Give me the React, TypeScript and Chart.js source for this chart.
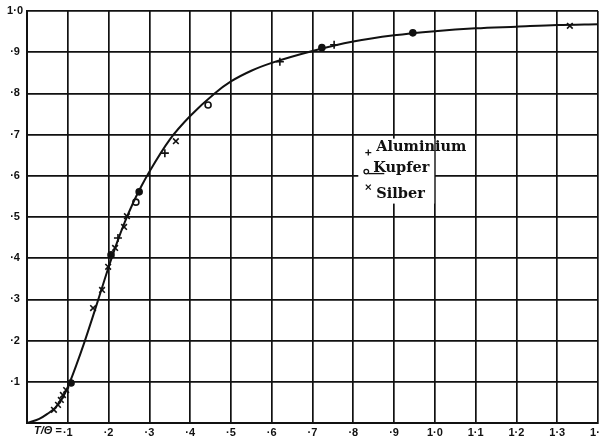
import React, { useEffect, useRef } from "react";
import { Chart, registerables } from "chart.js";

Chart.register(...registerables);

// Tick labels
const xTickLabels = ["", "·1", "·2", "·3", "·4", "·5", "·6", "·7", "·8", "·9", "1·0", "1·1", "1·2", "1·3", "1·4"];
const yTickLabels = ["", "·1", "·2", "·3", "·4", "·5", "·6", "·7", "·8", "·9", "1·0"];

// Theoretical curve
const curveX = [0, 0.03, 0.05, 0.07, 0.09, 0.105, 0.12, 0.14, 0.16, 0.18, 0.2, 0.22, 0.24, 0.26, 0.28, 0.3, 0.35, 0.4, 0.46, 0.5, 0.55, 0.6, 0.7, 0.8, 0.9, 1.0, 1.1, 1.2, 1.3, 1.4];
const curveY = [0, 0.01, 0.022, 0.038, 0.066, 0.099, 0.138, 0.194, 0.254, 0.316, 0.378, 0.436, 0.488, 0.534, 0.574, 0.61, 0.688, 0.745, 0.8, 0.829, 0.855, 0.874, 0.903, 0.926, 0.941, 0.951, 0.958, 0.962, 0.966, 0.968];

// Measurements
const aluX = [0.223, 0.338, 0.62, 0.753];
const aluY = [0.449, 0.655, 0.877, 0.918];

const kupX = [0.108, 0.206, 0.267, 0.275, 0.444, 0.723, 0.946];
const kupY = [0.097, 0.408, 0.536, 0.561, 0.772, 0.911, 0.947];
const kupFilled = [true, true, false, true, false, true, true];

const silX = [0.066, 0.076, 0.083, 0.088, 0.096, 0.162, 0.184, 0.199, 0.216, 0.238, 0.245, 0.365, 1.331];
const silY = [0.032, 0.044, 0.056, 0.068, 0.08, 0.279, 0.323, 0.379, 0.425, 0.476, 0.502, 0.684, 0.964];

const legendNames = ["Aluminium", "Kupfer", "Silber"];
const axisPrefix = "T/Θ =";

const INK = "#111";

const pts = (xs: number[], ys: number[]) => xs.map((x, i) => ({ x, y: ys[i] }));

const zeroPad = (s: any) => {
  s.paddingLeft = 0;
  s.paddingRight = 0;
  s.paddingTop = 0;
  s.paddingBottom = 0;
};

export default function App() {
  const ref = useRef<HTMLCanvasElement | null>(null);

  useEffect(() => {
    if (!ref.current) return;

    const whiteBg = {
      id: "whiteBg",
      beforeDraw(chart: any) {
        const ctx = chart.ctx;
        ctx.save();
        ctx.fillStyle = "#fff";
        ctx.fillRect(0, 0, chart.width, chart.height);
        ctx.restore();
      },
    };

    const extras = {
      id: "extras",
      afterDraw(chart: any) {
        const ctx = chart.ctx;
        const xs = chart.scales.x;
        const ys = chart.scales.y;
        ctx.save();
        // axis prefix
        ctx.fillStyle = INK;
        ctx.font = "italic bold 11px 'Liberation Sans'";
        ctx.textAlign = "right";
        ctx.textBaseline = "middle";
        ctx.fillText(axisPrefix, xs.getPixelForValue(0.1) - 6, ys.getPixelForValue(0) + 8);

        // legend
        const lx = xs.getPixelForValue(0.8) + 5;
        const ly = ys.getPixelForValue(0.7) + 4;
        ctx.fillStyle = "#fff";
        ctx.fillRect(lx, ly, 76, 65);
        ctx.fillStyle = INK;
        ctx.strokeStyle = INK;
        ctx.lineWidth = 1.3;
        ctx.font = "bold 14.5px 'DejaVu Serif'";
        ctx.textAlign = "left";
        ctx.textBaseline = "alphabetic";
        // + marker
        const mx = lx + 10;
        ctx.beginPath();
        ctx.moveTo(mx - 3, ly + 14); ctx.lineTo(mx + 3, ly + 14);
        ctx.moveTo(mx, ly + 11); ctx.lineTo(mx, ly + 17);
        ctx.stroke();
        ctx.fillText(legendNames[0], lx + 18, ly + 12);
        // o marker
        ctx.beginPath();
        ctx.arc(mx - 2, ly + 33, 2.3, 0, Math.PI * 2);
        ctx.stroke();
        ctx.beginPath();
        ctx.moveTo(mx, ly + 35); ctx.lineTo(mx + 16, ly + 35);
        ctx.stroke();
        ctx.fillText(legendNames[1], lx + 15, ly + 33);
        // x marker
        ctx.beginPath();
        ctx.moveTo(mx - 2.5, ly + 46); ctx.lineTo(mx + 2.5, ly + 51);
        ctx.moveTo(mx + 2.5, ly + 46); ctx.lineTo(mx - 2.5, ly + 51);
        ctx.stroke();
        ctx.fillText(legendNames[2], lx + 18, ly + 59);
        ctx.restore();
      },
    };

    const marker = { borderColor: INK, borderWidth: 1.6, pointRadius: 3.5, showLine: false };

    const chart = new Chart(ref.current, {
      type: "scatter",
      data: {
        datasets: [
          {
            type: "line",
            data: pts(curveX, curveY),
            borderColor: INK,
            borderWidth: 2,
            pointRadius: 0,
            cubicInterpolationMode: "monotone",
            fill: false,
          } as any,
          { ...marker, data: pts(aluX, aluY), pointStyle: "cross", pointRadius: 4 },
          {
            ...marker,
            data: pts(kupX, kupY),
            pointStyle: "circle",
            pointRadius: 3,
            pointBackgroundColor: kupFilled.map((f) => (f ? INK : "#fff")),
          },
          { ...marker, data: pts(silX, silY), pointStyle: "crossRot", pointRadius: 4 },
        ],
      },
      options: {
        responsive: false,
        animation: false,
        devicePixelRatio: 1,
        layout: { padding: { top: 11, right: 1, left: 0, bottom: 0 }, autoPadding: false } as any,
        plugins: { legend: { display: false }, tooltip: { enabled: false } },
        scales: {
          x: {
            type: "linear",
            min: 0,
            max: 1.4,
            afterFit: (s: any) => { s.height = 16; zeroPad(s); },
            ticks: {
              stepSize: 0.1,
              autoSkip: false,
              maxRotation: 0,
              padding: 3,
              color: INK,
              font: { family: "'Liberation Sans'", size: 11, weight: "bold" },
              callback: (v: any) => xTickLabels[Math.round(Number(v) * 10)] ?? "",
            },
            grid: { color: INK, lineWidth: 1.7, drawTicks: false },
            border: { color: INK, width: 2 },
          },
          y: {
            type: "linear",
            min: 0,
            max: 1,
            afterFit: (s: any) => { s.width = 27; zeroPad(s); },
            ticks: {
              stepSize: 0.1,
              autoSkip: false,
              padding: 4,
              crossAlign: "center",
              color: INK,
              font: { family: "'Liberation Sans'", size: 11, weight: "bold" },
              callback: (v: any) => yTickLabels[Math.round(Number(v) * 10)] ?? "",
            },
            grid: { color: INK, lineWidth: 1.7, drawTicks: false },
            border: { color: INK, width: 2 },
          },
        },
      },
      plugins: [whiteBg, extras],
    });
    return () => chart.destroy();
  }, []);

  return (
    <div style={{ position: "fixed", left: 0, top: 0, width: 599, height: 439, background: "#fff" }}>
      <canvas ref={ref} width={599} height={439} style={{ width: 599, height: 439, display: "block" }} />
    </div>
  );
}
